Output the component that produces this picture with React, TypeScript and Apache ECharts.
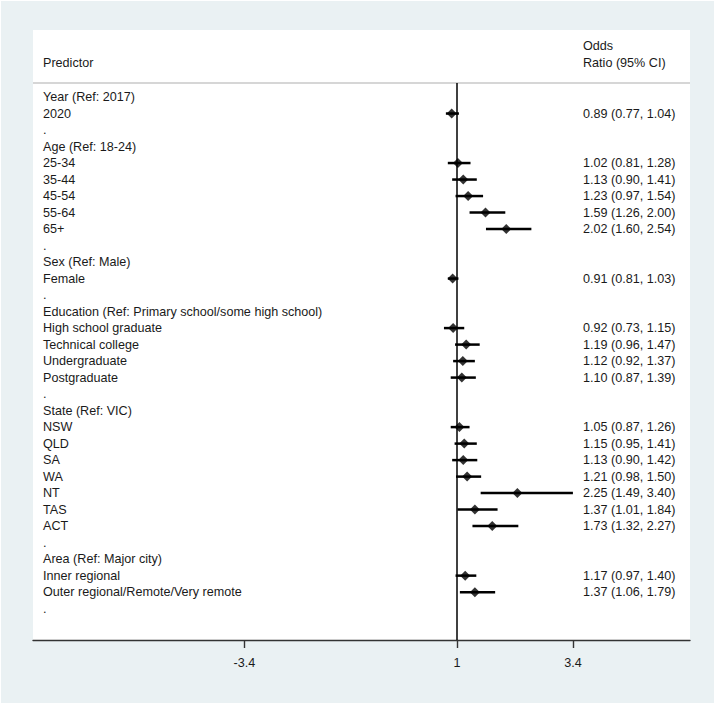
import React, { useEffect, useRef } from "react";
import * as echarts from "echarts";

const rowLabels = [
  "Year (Ref: 2017)", "2020", ".",
  "Age (Ref: 18-24)", "25-34", "35-44", "45-54", "55-64", "65+", ".",
  "Sex (Ref: Male)", "Female", ".",
  "Education (Ref: Primary school/some high school)", "High school graduate", "Technical college", "Undergraduate", "Postgraduate", ".",
  "State (Ref: VIC)", "NSW", "QLD", "SA", "WA", "NT", "TAS", "ACT", ".",
  "Area (Ref: Major city)", "Inner regional", "Outer regional/Remote/Very remote", ".",
];
const oddsRatio = [
  null, 0.89, null,
  null, 1.02, 1.13, 1.23, 1.59, 2.02, null,
  null, 0.91, null,
  null, 0.92, 1.19, 1.12, 1.10, null,
  null, 1.05, 1.15, 1.13, 1.21, 2.25, 1.37, 1.73, null,
  null, 1.17, 1.37, null,
];
const ciLow = [
  null, 0.77, null,
  null, 0.81, 0.90, 0.97, 1.26, 1.60, null,
  null, 0.81, null,
  null, 0.73, 0.96, 0.92, 0.87, null,
  null, 0.87, 0.95, 0.90, 0.98, 1.49, 1.01, 1.32, null,
  null, 0.97, 1.06, null,
];
const ciHigh = [
  null, 1.04, null,
  null, 1.28, 1.41, 1.54, 2.00, 2.54, null,
  null, 1.03, null,
  null, 1.15, 1.47, 1.37, 1.39, null,
  null, 1.26, 1.41, 1.42, 1.50, 3.40, 1.84, 2.27, null,
  null, 1.40, 1.79, null,
];
const xTicks = [-3.4, 1, 3.4];
const headerLeft = "Predictor";
const headerRight = ["Odds", "Ratio (95% CI)"];

const FONT = "'Liberation Sans', Arial, sans-serif";
const FS = 12.6;
const TEXT_COLOR = "#1a1a1a";

export default function App() {
  const ref = useRef<HTMLDivElement>(null);
  useEffect(() => {
    document.body.style.margin = "0";
    const chart = echarts.init(ref.current!, null, { renderer: "svg" });

    const estData: any[] = [];
    const ciData: any[] = [];
    const labelData: any[] = [];
    rowLabels.forEach((lab, i) => {
      const or = oddsRatio[i];
      const lo = ciLow[i];
      const hi = ciHigh[i];
      const right =
        or != null ? `${or.toFixed(2)} (${lo!.toFixed(2)}, ${hi!.toFixed(2)})` : "";
      labelData.push({ value: [1, i], left: lab, right });
      if (or != null) {
        estData.push([or, i]);
        ciData.push([lo, hi, i]);
      }
    });

    const font = `${FS}px ${FONT}`;
    const option: any = {
      animation: false,
      backgroundColor: "#ffffff",
      graphic: [
        { type: "rect", z: -10, shape: { x: 1, y: 1, width: 713, height: 702 }, style: { fill: "#eaf1f3" } },
        { type: "rect", z: -9, shape: { x: 33, y: 30, width: 657, height: 610 }, style: { fill: "#ffffff" } },
        { type: "line", z: 5, shape: { x1: 33, y1: 83, x2: 690, y2: 83 }, style: { stroke: "#c8c8c8", lineWidth: 1.5 } },
        { type: "text", x: 43, y: 63, style: { text: headerLeft, font, fill: TEXT_COLOR, verticalAlign: "middle" } },
        { type: "text", x: 583, y: 46, style: { text: headerRight[0], font, fill: TEXT_COLOR, verticalAlign: "middle" } },
        { type: "text", x: 583, y: 63, style: { text: headerRight[1], font, fill: TEXT_COLOR, verticalAlign: "middle" } },
      ],
      grid: { left: 33, right: 26, top: 83, bottom: 65, show: false },
      xAxis: {
        type: "value",
        min: -7.778,
        max: 5.824,
        splitLine: { show: false },
        axisLine: { show: true, onZero: false, lineStyle: { color: "#333", width: 1.4 } },
        axisTick: { show: true, customValues: xTicks, length: 8, lineStyle: { color: "#333", width: 1.4 } },
        axisLabel: { customValues: xTicks, margin: 16, color: TEXT_COLOR, fontSize: FS, fontFamily: FONT, formatter: (v: number) => String(v) },
      },
      yAxis: {
        type: "value",
        inverse: true,
        min: -0.85,
        max: 32.9,
        show: false,
      },
      series: [
        {
          type: "custom",
          name: "labels",
          data: labelData.map((d) => d.value),
          renderItem: (params: any, api: any) => {
            const i = api.value(1);
            const d = labelData[i];
            const y = api.coord([1, i])[1];
            const cs = params.coordSys;
            return {
              type: "group",
              children: [
                { type: "text", x: cs.x + 10, y, style: { text: d.left, font, fill: TEXT_COLOR, verticalAlign: "middle" } },
                { type: "text", x: cs.x + 550, y, style: { text: d.right, font, fill: TEXT_COLOR, verticalAlign: "middle" } },
              ],
            };
          },
          silent: true,
          z: 3,
        },
        {
          type: "custom",
          name: "ci",
          data: ciData,
          renderItem: (params: any, api: any) => {
            const a = api.coord([api.value(0), api.value(2)]);
            const b = api.coord([api.value(1), api.value(2)]);
            return {
              type: "line",
              shape: { x1: a[0], y1: a[1], x2: b[0], y2: b[1] },
              style: { stroke: "#000", lineWidth: 2.5 },
            };
          },
          silent: true,
          z: 4,
          markLine: {
            silent: true,
            symbol: "none",
            label: { show: false },
            lineStyle: { color: "#000", width: 1.5, type: "solid" },
            data: [{ xAxis: 1 }],
          },
        },
        {
          type: "scatter",
          name: "OR",
          data: estData,
          symbol: "diamond",
          symbolSize: [10, 10],
          itemStyle: { color: "#000" },
          silent: true,
          z: 5,
        },
      ],
    };
    chart.setOption(option);
    return () => chart.dispose();
  }, []);
  return <div ref={ref} style={{ width: 716, height: 705 }} />;
}
